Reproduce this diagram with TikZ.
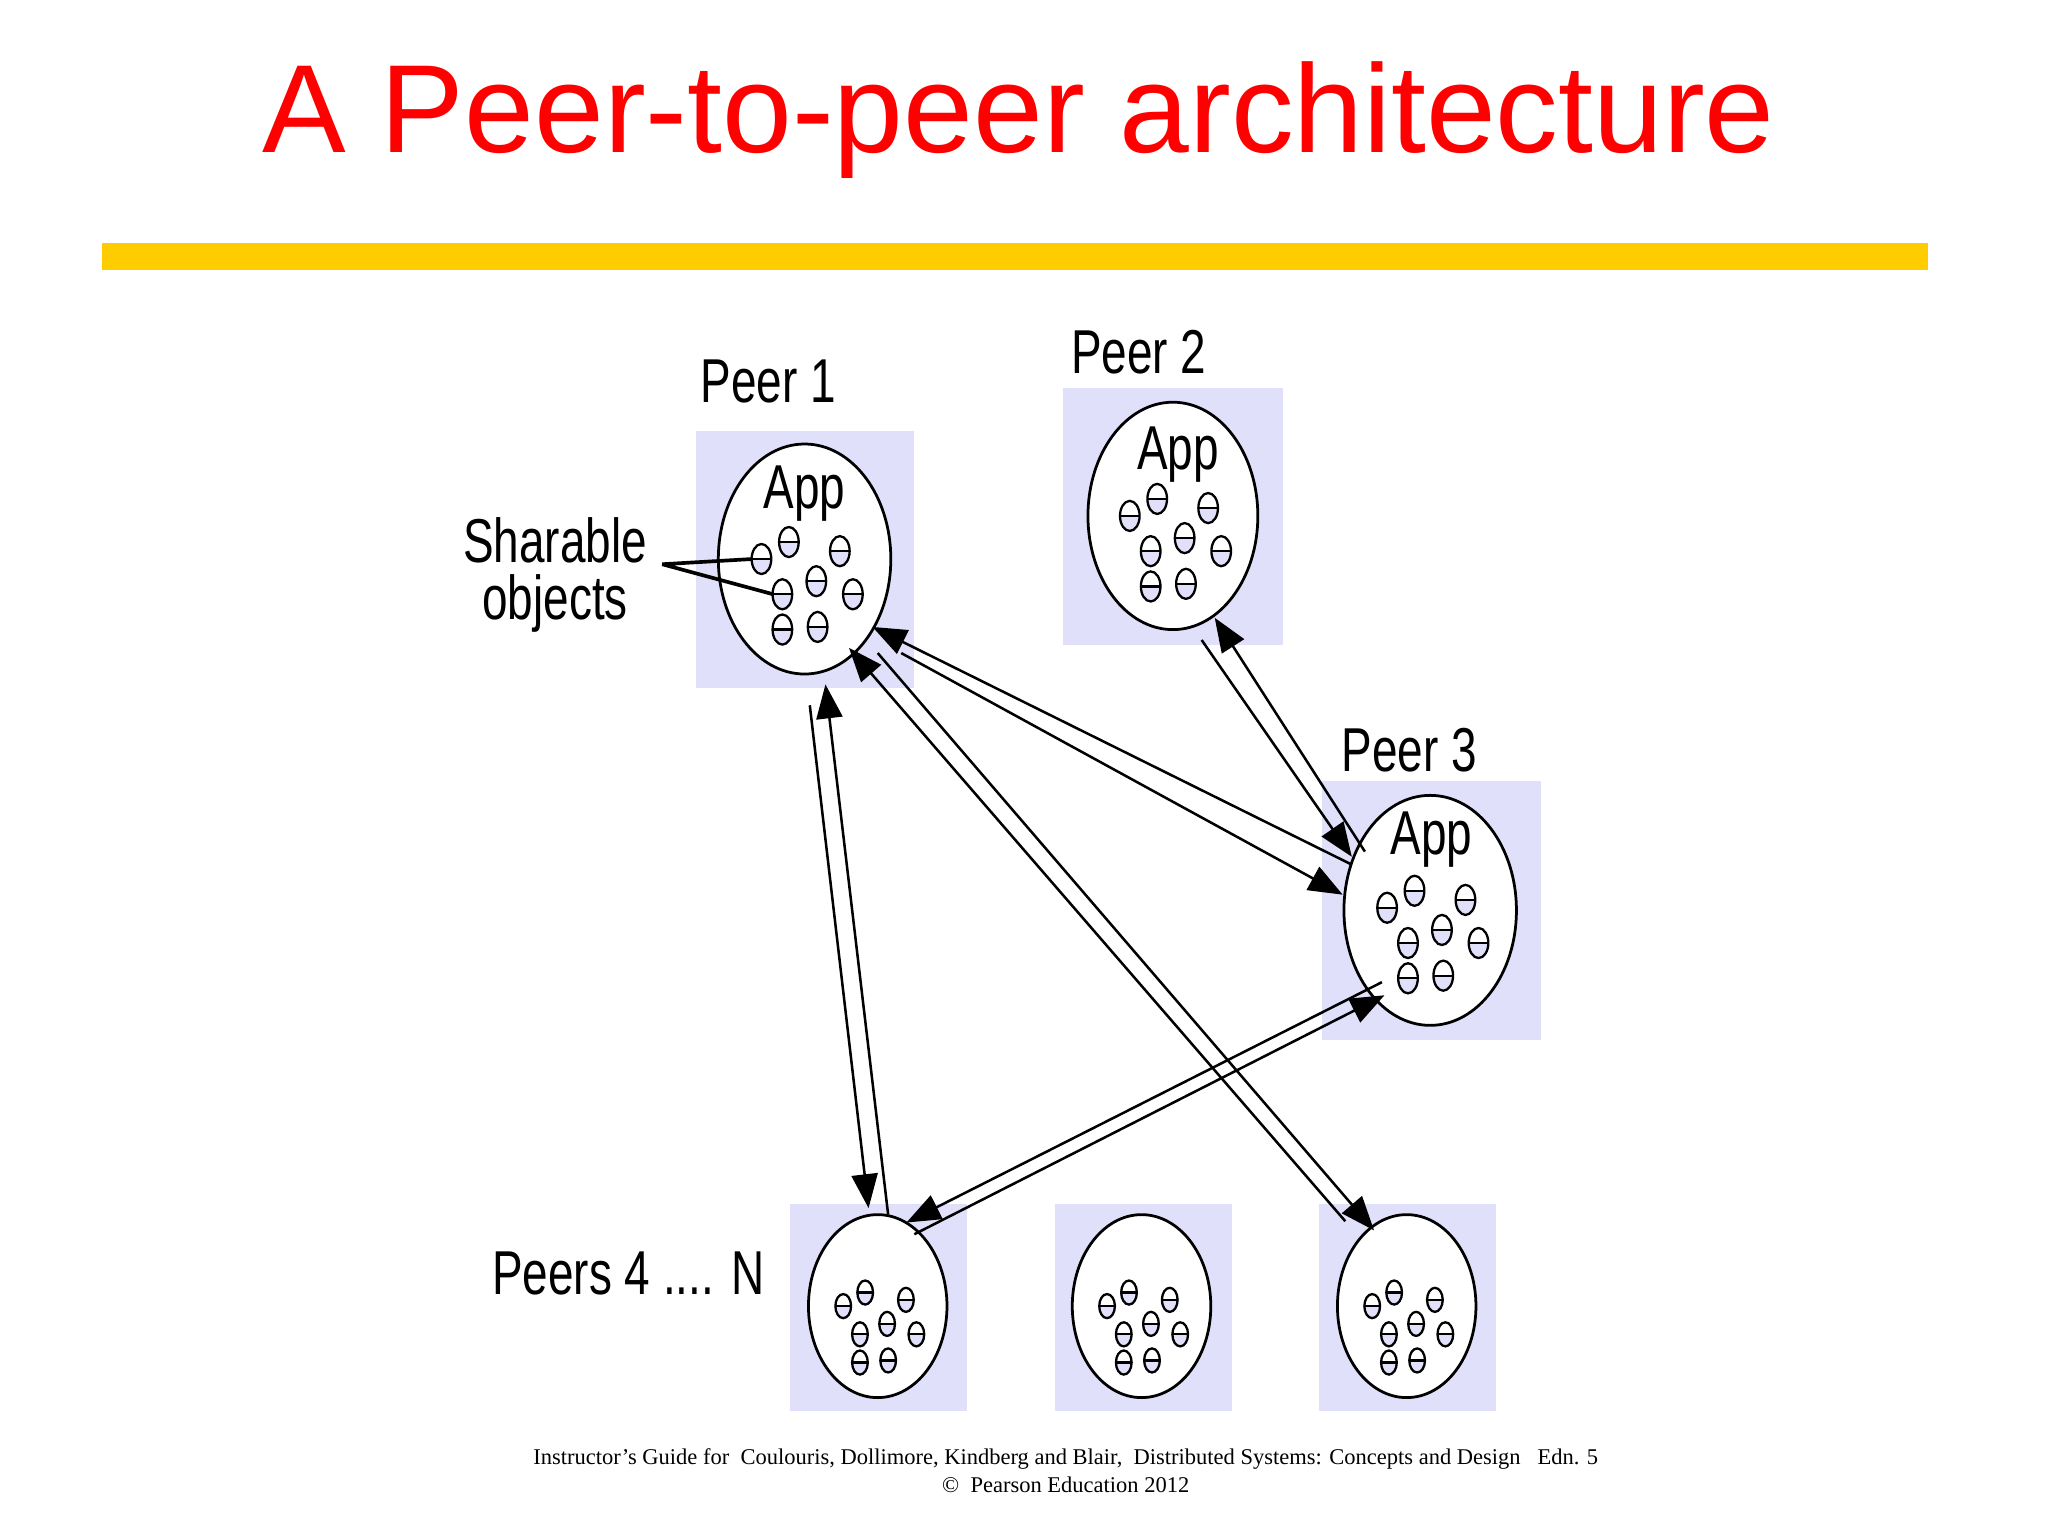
\documentclass[tikz,border=0pt]{standalone}
\usepackage{fontspec}
\setmainfont{Liberation Serif}
\newfontfamily\sans{Liberation Sans}
\usetikzlibrary{arrows.meta,shapes.geometric}
\definecolor{lav}{RGB}{224,224,250}
\definecolor{bar}{RGB}{255,204,0}
\newcommand{\myobj}[3]{%
 \begin{scope}[shift={(#1,#2)},scale=#3]
  \begin{scope}\clip (-9,0) rectangle (9,13);\fill[lav] (0,0) ellipse [x radius=0.075cm,y radius=0.115cm];\end{scope}
  \draw[line width=0.5pt] (0,0) ellipse [x radius=0.075cm,y radius=0.115cm];
  \draw[line width=0.5pt] (-7.5,0) -- (7.5,0);
 \end{scope}}
\newcommand{\myobjs}[3]{%
 \begin{scope}[shift={(#1,#2)},scale=#3]
 \foreach \a/\b in {-33/0,-12/-13,27/-6,-17/27,9/17,37/27,-17/54,10/52}{\myobj{\a}{\b}{1}}
 \end{scope}}
\tikzset{
 lbl/.style={font=\sans\fontsize{13.5}{13.5}\selectfont,xscale=0.74,inner sep=0},
 arr/.style={line width=0.55pt,-{Triangle[length=0.26cm,width=0.2cm]}},
 cell/.style={fill=lav},
 peer/.style={draw,ellipse,line width=0.6pt,fill=white,inner sep=0}
}
\begin{document}
\begin{tikzpicture}[x=0.01cm,y=-0.01cm]
\useasboundingbox[fill=white] (0,0) rectangle (1568,1176);
\node[font=\sans\fontsize{27.3}{27.3}\selectfont,text=red,inner sep=0] (title) at (780,92) {A Peer-to-peer architecture};
\fill[bar] (78,186) rectangle (1476,207);
% boxes
\fill[cell] (533,330) rectangle (700,527);
\fill[cell] (814,297) rectangle (982,494);
\fill[cell] (1012,598) rectangle (1180,796);
\fill[cell] (605,922) rectangle (740,1080);
\fill[cell] (808,922) rectangle (943,1080);
\fill[cell] (1010,922) rectangle (1145,1080);
% ellipses
\node[peer,minimum width=1.32cm,minimum height=1.76cm] (p1) at (616,428) {};
\node[peer,minimum width=1.30cm,minimum height=1.74cm] (p2) at (898,395) {};
\node[peer,minimum width=1.32cm,minimum height=1.76cm] (p3) at (1095,697) {};
\node[peer,minimum width=1.06cm,minimum height=1.40cm] (p4) at (672,1000) {};
\node[peer,minimum width=1.06cm,minimum height=1.40cm] (p5) at (874,1000) {};
\node[peer,minimum width=1.06cm,minimum height=1.40cm] (p6) at (1077,1000) {};
\node[lbl] (a1) at (616,378) {App};
\node[lbl] (a2) at (902,348) {App};
\node[lbl] (a3) at (1096,643) {App};
\myobjs{616}{428}{1}
\myobjs{898}{395}{1}
\myobjs{1095}{695}{1}
\myobjs{672}{1000}{0.8}
\myobjs{874}{1000}{0.8}
\myobjs{1077}{1000}{0.8}
\node[lbl] (l1) at (588,292) {Peer 1};
\node[lbl] (l2) at (872,270) {Peer 2};
\node[lbl] (l3) at (1079,574) {Peer 3};
\node[lbl] (l4) at (481,975) {Peers 4 .... N};
\node[lbl,align=center,font=\sans\fontsize{13.5}{12.5}\selectfont] (so) at (425,440) {Sharable\\objects};
\coordinate (sx) at (507,432);
\coordinate (o1) at (576,428);
\coordinate (o2) at (592,455);
\draw[line width=0.8pt] (sx) -- (o1) (sx) -- (o2);
% arrows
\coordinate (a14s) at (680,930); \coordinate (a14e) at (632,524);
\coordinate (b14s) at (620,540); \coordinate (b14e) at (665,925);
\draw[arr] (a14s) -- (a14e); \draw[arr] (b14s) -- (b14e);
\coordinate (a13s) at (1035,662); \coordinate (a13e) at (668,480);
\coordinate (b13s) at (690,500); \coordinate (b13e) at (1028,685);
\draw[arr] (a13s) -- (a13e); \draw[arr] (b13s) -- (b13e);
\coordinate (a16s) at (1030,935); \coordinate (a16e) at (650,496);
\coordinate (b16s) at (672,500); \coordinate (b16e) at (1052,942);
\draw[arr] (a16s) -- (a16e); \draw[arr] (b16s) -- (b16e);
\coordinate (a23s) at (1045,652); \coordinate (a23e) at (930,473);
\coordinate (b23s) at (920,490); \coordinate (b23e) at (1035,656);
\draw[arr] (a23s) -- (a23e); \draw[arr] (b23s) -- (b23e);
\coordinate (a34s) at (700,945); \coordinate (a34e) at (1060,762);
\coordinate (b34s) at (1058,752); \coordinate (b34e) at (694,936);
\draw[arr] (a34s) -- (a34e); \draw[arr] (b34s) -- (b34e);
\node[font=\fontsize{4.9}{6}\selectfont,align=center,inner sep=0] (ft) at (816,1126) {Instructor's Guide for\ \ Coulouris, Dollimore, Kindberg and Blair,\ \ Distributed Systems: Concepts and Design\ \ \ Edn. 5\\ \copyright\ \ Pearson Education 2012};
\end{tikzpicture}
\end{document}
